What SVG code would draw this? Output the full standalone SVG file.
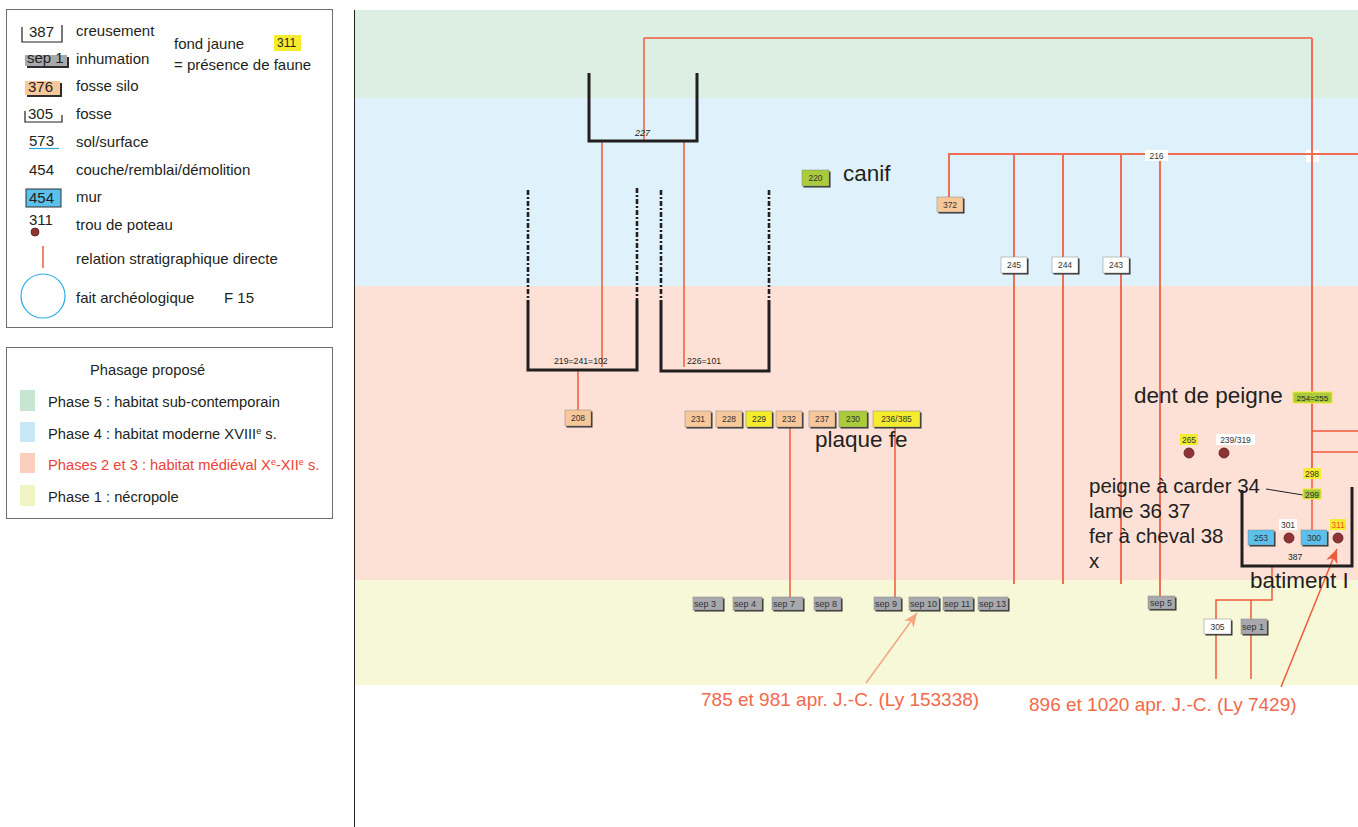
<svg xmlns="http://www.w3.org/2000/svg" width="1358" height="827" viewBox="0 0 1358 827">
<defs>
<style>
.t{font-family:"Liberation Sans",Arial,sans-serif;fill:#231f20}
.lg{font-size:15px}
.ph{font-size:14.7px}
.big{font-size:22.5px}
.mid{font-size:20.5px}
.sm{font-size:8.5px;fill:#333}
.sp{font-size:9px;fill:#333}
.ann{font-size:19px;fill:#f2694b;font-family:"Liberation Sans",Arial,sans-serif}
.r{stroke:#ef5a3c;stroke-width:1.5;fill:none}
.r2{stroke:#ee6f56;stroke-width:2;fill:none}
.br{stroke:#231f20;stroke-width:3;fill:none}
.dsh{stroke:#231f20;stroke-width:2.6;fill:none;stroke-dasharray:5 2 2 2}
.shd{fill:#2e2e2e}
.bx{stroke:#888;stroke-width:.5}
.or{fill:#f8c89a}
.ye{fill:#f5ec2e}
.gr{fill:#aacb3b}
.wh{fill:#fff}
.gy{fill:#a7a9ac}
.bl{fill:#5bc0eb}
.ph1{fill:#ddefe2}
.pst{fill:#8e3434;stroke:#5a1c1c;stroke-width:.8}
</style>
<marker id="arrR" viewBox="0 0 14 12" refX="14" refY="6" markerWidth="14" markerHeight="12" markerUnits="userSpaceOnUse" orient="auto">
<path d="M0,0 L14,6 L0,12 L4,6 Z" fill="#ef5a3c"/>
</marker>
<marker id="arrS" viewBox="0 0 14 12" refX="14" refY="6" markerWidth="14" markerHeight="12" markerUnits="userSpaceOnUse" orient="auto">
<path d="M0,0 L14,6 L0,12 L4,6 Z" fill="#f4a582"/>
</marker>
</defs>
<rect width="1358" height="827" fill="#fff"/>

<!-- phase bands -->
<g id="bands">
<rect x="354" y="10" width="1004" height="88" fill="#ddefe2"/>
<rect x="354" y="98" width="1004" height="188" fill="#dff2fb"/>
<rect x="354" y="286" width="1004" height="294" fill="#fde1d7"/>
<rect x="354" y="580" width="1004" height="105" fill="#f7f8d8"/>
<line x1="354.5" y1="10" x2="354.5" y2="827" stroke="#231f20" stroke-width="1"/>
</g>

<!-- legend -->
<g id="legend">
<rect x="6.5" y="9.5" width="326" height="318" fill="#fff" stroke="#6d6e71"/>
<path d="M22,27 V42 H62 V25" fill="none" stroke="#231f20" stroke-width="1.2"/>
<text class="t lg" x="29" y="37">387</text>
<text class="t lg" x="76" y="36">creusement</text>
<rect x="27" y="57" width="42" height="11" class="shd"/>
<rect x="25" y="55" width="42" height="11" class="gy"/>
<text class="t lg" x="27" y="63">sep 1</text>
<text class="t lg" x="76" y="64">inhumation</text>
<rect x="27" y="83" width="35" height="14" class="shd"/>
<rect x="25" y="81" width="35" height="14" class="or"/>
<text class="t lg" x="28" y="92">376</text>
<text class="t lg" x="76" y="91">fosse silo</text>
<path d="M25,111 V122 H62 V115" fill="none" stroke="#231f20" stroke-width="1.2"/>
<text class="t lg" x="28" y="119">305</text>
<text class="t lg" x="76" y="119">fosse</text>
<text class="t lg" x="29" y="146">573</text>
<line x1="29" y1="148.5" x2="59" y2="148.5" stroke="#29abe2" stroke-width="1.2"/>
<text class="t lg" x="76" y="147">sol/surface</text>
<text class="t lg" x="29" y="175">454</text>
<text class="t lg" x="76" y="175">couche/remblai/démolition</text>
<rect x="26" y="189" width="35" height="18" class="bl" stroke="#333" stroke-width="1"/>
<text class="t lg" x="29" y="203">454</text>
<text class="t lg" x="76" y="202">mur</text>
<text class="t lg" x="29" y="225">311</text>
<circle cx="35" cy="232" r="4" class="pst"/>
<text class="t lg" x="76" y="230">trou de poteau</text>
<line x1="43" y1="246" x2="43" y2="268" class="r"/>
<text class="t lg" x="76" y="264">relation stratigraphique directe</text>
<circle cx="43" cy="296" r="22" fill="none" stroke="#29abe2" stroke-width="1.2"/>
<text class="t lg" x="76" y="303">fait archéologique</text>
<text class="t lg" x="224" y="303">F 15</text>
<text class="t lg" x="174" y="49">fond jaune</text>
<rect x="274" y="35" width="27" height="16" class="ye"/>
<text class="t" x="277" y="47" font-size="12">311</text>
<text class="t lg" x="174" y="70">= présence de faune</text>
</g>

<g id="phasage">
<rect x="6.5" y="347.5" width="326" height="171" fill="#fff" stroke="#6d6e71"/>
<text class="t ph" x="90" y="375">Phasage proposé</text>
<rect x="20" y="390" width="15" height="21" fill="#c6e6d1"/>
<text class="t ph" x="48" y="407">Phase 5 : habitat sub-contemporain</text>
<rect x="20" y="422" width="15" height="20" fill="#c8e8f8"/>
<text class="t ph" x="48" y="439">Phase 4 : habitat moderne XVIII<tspan font-size="9" dy="-5">e</tspan><tspan dy="5"> s.</tspan></text>
<rect x="20" y="453" width="15" height="20" fill="#fbcfc0"/>
<text class="t ph" x="48" y="470" style="fill:#ef4136">Phases 2 et 3 : habitat médiéval X<tspan font-size="9" dy="-5">e</tspan><tspan dy="5">-XII</tspan><tspan font-size="9" dy="-5">e</tspan><tspan dy="5"> s.</tspan></text>
<rect x="20" y="485" width="15" height="21" fill="#f1f3c2"/>
<text class="t ph" x="48" y="502">Phase 1 : nécropole</text>
</g>

<!-- connectors -->
<g id="connectors">
<path class="r" d="M644,38 V141"/>
<path class="r" d="M644,38 H1312"/>
<rect x="1306" y="150" width="13" height="12" fill="#fff"/>
<path class="r2" d="M1312,38 V468"/>
<path class="r" d="M1312,479 V489 M1312,499 V530"/>
<path class="r" d="M1312,431 H1358 M1312,452 H1358"/>
<path class="r" d="M602,141 V367 M684,141 V367"/>
<path class="r" d="M578,370 V410"/>
<path class="r" d="M790,428 V597 M895,428 V597"/>
<path class="r2" d="M949,197 V154 H1358"/>
<path class="r2" d="M1014,154 V584 M1063,154 V584 M1121,154 V584 M1160,154 V596"/>
<path class="r" d="M1272,566 V600 H1216 V619 M1251,600 V619"/>
<path class="r" d="M1216,634 V679 M1251,634 V679"/>
<line x1="1266" y1="489" x2="1303" y2="495" stroke="#231f20" stroke-width="1"/>
<line x1="1281" y1="687" x2="1337" y2="549" stroke="#ef5a3c" stroke-width="1.5" marker-end="url(#arrR)"/>
<line x1="866" y1="683" x2="917" y2="613" stroke="#f4a582" stroke-width="1.5" marker-end="url(#arrS)"/>
</g>

<!-- brackets -->
<g id="n227">
<path class="br" d="M589,73 V141 H697 V73"/>
<text class="t" x="635" y="136" font-size="9" font-style="italic">227</text>
</g>
<g id="n219">
<path class="dsh" d="M528,190 V300 M637,188 V300"/>
<path class="br" d="M528,300 V370 H637 V300"/>
<text class="t" x="554" y="364" font-size="8.7">219=241=102</text>
</g>
<g id="n226">
<path class="dsh" d="M661,190 V300 M769,190 V300"/>
<path class="br" d="M661,300 V371 H769 V300"/>
<text class="t" x="687" y="364" font-size="8.7">226=101</text>
</g>
<g id="batiment">
<path class="br" d="M1242,490 V566 H1352 V487"/>
<text class="t" x="1288" y="560" font-size="8.5">387</text>
<text class="t big" x="1250" y="588">batiment I</text>
</g>

<!-- boxes row -->
<g id="n208"><rect x="566.5" y="411.5" width="26" height="16" class="shd"/><rect x="565" y="410" width="26" height="16" class="or bx"/><text class="t sm" x="578" y="421" text-anchor="middle">208</text></g>
<g id="n231"><rect x="686.5" y="412.5" width="26" height="16" class="shd"/><rect x="685" y="411" width="26" height="16" class="or bx"/><text class="t sm" x="698" y="422" text-anchor="middle">231</text></g>
<g id="n228"><rect x="717.5" y="412.5" width="26" height="16" class="shd"/><rect x="716" y="411" width="26" height="16" class="or bx"/><text class="t sm" x="729" y="422" text-anchor="middle">228</text></g>
<g id="n229"><rect x="747.5" y="412.5" width="26" height="16" class="shd"/><rect x="746" y="411" width="26" height="16" class="ye bx"/><text class="t sm" x="759" y="422" text-anchor="middle">229</text></g>
<g id="n232"><rect x="777.5" y="412.5" width="26" height="16" class="shd"/><rect x="776" y="411" width="26" height="16" class="or bx"/><text class="t sm" x="789" y="422" text-anchor="middle">232</text></g>
<g id="n237"><rect x="810.5" y="412.5" width="26" height="16" class="shd"/><rect x="809" y="411" width="26" height="16" class="or bx"/><text class="t sm" x="822" y="422" text-anchor="middle">237</text></g>
<g id="n230"><rect x="840.5" y="412.5" width="28" height="16" class="shd"/><rect x="839" y="411" width="28" height="16" class="gr bx"/><text class="t sm" x="853" y="422" text-anchor="middle">230</text></g>
<g id="n236"><rect x="874.5" y="412.5" width="47" height="16" class="shd"/><rect x="873" y="411" width="47" height="16" class="ye bx"/><text class="t sm" x="896.5" y="422" text-anchor="middle">236/385</text></g>
<text class="t big" x="815" y="447">plaque fe</text>

<g id="n220"><rect x="803.5" y="171.5" width="27" height="16" class="shd"/><rect x="802" y="170" width="27" height="16" class="gr bx"/><text class="t sm" x="815.5" y="181" text-anchor="middle">220</text></g>
<text class="t big" x="843" y="181">canif</text>
<g id="n372"><rect x="938.5" y="198.5" width="26" height="15" class="shd"/><rect x="937" y="197" width="26" height="15" class="or bx"/><text class="t sm" x="950" y="208" text-anchor="middle">372</text></g>
<g id="n216"><rect x="1145" y="150" width="23" height="11" class="wh"/><text class="t sm" x="1156.5" y="159" text-anchor="middle">216</text></g>
<g id="n245"><rect x="1002.5" y="258.5" width="26" height="16" class="shd"/><rect x="1001" y="257" width="26" height="16" class="wh bx"/><text class="t sm" x="1014" y="268" text-anchor="middle">245</text></g>
<g id="n244"><rect x="1053.5" y="258.5" width="26" height="16" class="shd"/><rect x="1052" y="257" width="26" height="16" class="wh bx"/><text class="t sm" x="1065" y="268" text-anchor="middle">244</text></g>
<g id="n243"><rect x="1104.5" y="258.5" width="26" height="16" class="shd"/><rect x="1103" y="257" width="26" height="16" class="wh bx"/><text class="t sm" x="1116" y="268" text-anchor="middle">243</text></g>

<!-- right side -->
<text class="t big" x="1134" y="403">dent de peigne</text>
<g id="n254"><rect x="1293" y="392" width="39" height="11" class="gr" stroke="#f5ec2e" stroke-width="1"/><text class="t" x="1312.5" y="401" font-size="8" text-anchor="middle">254=255</text></g>
<g id="n265"><rect x="1180" y="434" width="18" height="11" class="ye"/><text class="t sm" x="1189" y="443" text-anchor="middle">265</text><circle cx="1189" cy="453" r="5" class="pst"/></g>
<g id="n239"><rect x="1216" y="434" width="39" height="11" class="wh"/><text class="t sm" x="1235.5" y="443" text-anchor="middle">239/319</text><circle cx="1224" cy="453" r="5" class="pst"/></g>
<g id="n298"><rect x="1303" y="468" width="18" height="11" class="ye"/><text class="t sm" x="1312" y="477" text-anchor="middle">298</text></g>
<g id="n299"><rect x="1303" y="489" width="18" height="10" class="gr" stroke="#f5ec2e" stroke-width="1"/><text class="t sm" x="1312" y="497.5" text-anchor="middle">299</text></g>
<text class="t mid" x="1089" y="493">peigne à carder 34</text>
<text class="t mid" x="1089" y="518">lame 36 37</text>
<text class="t mid" x="1089" y="543">fer à cheval 38</text>
<text class="t mid" x="1089" y="568">x</text>
<g id="n253"><rect x="1249.5" y="531.5" width="26" height="15" class="shd"/><rect x="1248" y="530" width="26" height="15" class="bl bx"/><text class="t sm" x="1261" y="541" text-anchor="middle">253</text></g>
<g id="n301"><rect x="1279" y="519" width="18" height="11" class="wh"/><text class="t sm" x="1288" y="528" text-anchor="middle">301</text><circle cx="1289" cy="538" r="5" class="pst"/></g>
<g id="n300"><rect x="1302.5" y="531.5" width="26" height="15" class="shd"/><rect x="1301" y="530" width="26" height="15" class="bl bx"/><text class="t sm" x="1314" y="541" text-anchor="middle">300</text></g>
<g id="n311"><rect x="1330" y="519" width="16" height="11" class="ye"/><text class="t sm" x="1338" y="528" text-anchor="middle" style="fill:#f05a28">311</text><circle cx="1338" cy="538" r="5" class="pst"/></g>

<!-- sep row -->
<g id="sep3"><rect x="694.5" y="598.5" width="30" height="13" class="shd"/><rect x="693" y="597" width="30" height="13" class="gy bx"/><text class="t sp" x="694" y="607">sep 3</text></g>
<g id="sep4"><rect x="734.5" y="598.5" width="29" height="13" class="shd"/><rect x="733" y="597" width="29" height="13" class="gy bx"/><text class="t sp" x="734" y="607">sep 4</text></g>
<g id="sep7"><rect x="773.5" y="598.5" width="31" height="13" class="shd"/><rect x="772" y="597" width="31" height="13" class="gy bx"/><text class="t sp" x="773" y="607">sep 7</text></g>
<g id="sep8"><rect x="815.5" y="598.5" width="27" height="13" class="shd"/><rect x="814" y="597" width="27" height="13" class="gy bx"/><text class="t sp" x="815" y="607">sep 8</text></g>
<g id="sep9"><rect x="875.5" y="598.5" width="27" height="13" class="shd"/><rect x="874" y="597" width="27" height="13" class="gy bx"/><text class="t sp" x="875" y="607">sep 9</text></g>
<g id="sep10"><rect x="910.5" y="598.5" width="30" height="13" class="shd"/><rect x="909" y="597" width="30" height="13" class="gy bx"/><text class="t sp" x="910" y="607">sep 10</text></g>
<g id="sep11"><rect x="944.5" y="598.5" width="30" height="13" class="shd"/><rect x="943" y="597" width="30" height="13" class="gy bx"/><text class="t sp" x="944" y="607">sep 11</text></g>
<g id="sep13"><rect x="979.5" y="598.5" width="30" height="13" class="shd"/><rect x="978" y="597" width="30" height="13" class="gy bx"/><text class="t sp" x="979" y="607">sep 13</text></g>
<g id="sep5"><rect x="1149.5" y="597.5" width="27" height="13" class="shd"/><rect x="1148" y="596" width="27" height="13" class="gy bx"/><text class="t sp" x="1150" y="606">sep 5</text></g>
<g id="n305"><rect x="1205.5" y="620.5" width="27" height="15" class="shd"/><rect x="1204" y="619" width="27" height="15" class="wh bx"/><text class="t sm" x="1217.5" y="630" text-anchor="middle">305</text></g>
<g id="sep1"><rect x="1242.5" y="620.5" width="26" height="15" class="shd"/><rect x="1241" y="619" width="26" height="15" class="gy bx"/><text class="t sp" x="1242" y="630">sep 1</text></g>

<text class="ann" x="701" y="706">785 et 981 apr. J.-C. (Ly 153338)</text>
<text class="ann" x="1029" y="711">896 et 1020 apr. J.-C. (Ly 7429)</text>
</svg>
